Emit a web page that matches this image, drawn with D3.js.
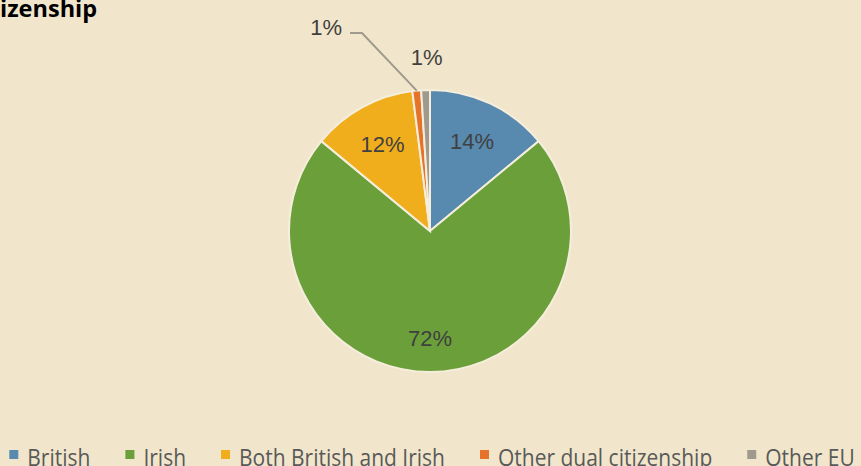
<!DOCTYPE html>
<html><head><meta charset="utf-8">
<script src="https://cdn.jsdelivr.net/npm/d3@7"></script>
<style>html,body{margin:0;padding:0;background:#f1e6cb;overflow:hidden}</style>
</head><body>
<svg id="c" width="861" height="466"></svg>
<script>
const categories = ["British","Irish","Both British and Irish","Other dual citizenship","Other EU"];
const values = [14,72,12,1,1];
const labels = ["14%","72%","12%","1%","1%"];
const colors = ["#5889ae","#6a9f3a","#f0ae1c","#e5732a","#a09a8e"];
const title = "Citizenship";

const svg = d3.select("#c");
const W = 861, H = 466;
svg.append("rect").attr("width",W).attr("height",H).attr("fill","#f1e6cb");

// title (left part cut off, as in the reference)
{
  const tf = "'Open Sans', sans-serif";
  const tmp = svg.append("text").attr("font-family",tf).attr("font-weight","bold").attr("font-size",23.5).text("Cit");
  const off = tmp.node().getComputedTextLength();
  tmp.remove();
  svg.append("text").attr("transform",`translate(${-off},17)`)
    .attr("font-family",tf).attr("font-weight","bold").attr("font-size",23.5)
    .attr("fill","#000").text(title);
}

const cx = 430, cy = 231, R = 141;
const pie = d3.pie().sort(null).value(d=>d)(values);
const arc = d3.arc().innerRadius(0).outerRadius(R);
const g = svg.append("g").attr("transform",`translate(${cx},${cy})`);
g.selectAll("path").data(pie).join("path").attr("d",arc)
  .attr("fill",(d,i)=>colors[i]).attr("stroke","#f6eedc").attr("stroke-width",2);

const lf = "'Liberation Sans', Arial, sans-serif";
const lfs = 22;
// inside labels
const inner = [0,1,2];
const rf = [0.70,0.76,0.70];
inner.forEach(i=>{
  const a = d3.arc().innerRadius(R*rf[i]).outerRadius(R*rf[i]);
  const [x,y] = a.centroid(pie[i]);
  g.append("text").attr("x",x).attr("y",y).attr("dy","0.35em").attr("text-anchor","middle")
   .attr("font-family",lf).attr("font-size",lfs).attr("fill","#404040").text(labels[i]);
});
// outside labels
{
  const d = pie[4];
  const a = d3.arc().innerRadius(R*1.23).outerRadius(R*1.23);
  const [x,y] = a.centroid(d);
  g.append("text").attr("x",x+2).attr("y",y).attr("dy","0.35em").attr("text-anchor","middle")
   .attr("font-family",lf).attr("font-size",lfs).attr("fill","#404040").text(labels[4]);
}
{
  const d = pie[3];
  const mid = (d.startAngle+d.endAngle)/2;
  const p0 = [R*Math.sin(mid), -R*Math.cos(mid)];
  const p1 = [-68, -198];
  const p2 = [-80, -198];
  g.append("polyline").attr("points",[p0,p1,p2].map(p=>p.join(",")).join(" "))
   .attr("fill","none").attr("stroke","#a09a8e").attr("stroke-width",2);
  g.append("text").attr("x",p2[0]-8).attr("y",p2[1]+2).attr("text-anchor","end")
   .attr("font-family",lf).attr("font-size",lfs).attr("fill","#404040").text(labels[3]);
}

// legend
const leg = svg.append("g");
const items = [];
categories.forEach((c,i)=>{
  const it = leg.append("g");
  it.append("rect").attr("y",450).attr("width",9).attr("height",9).attr("fill",colors[i]);
  const t = it.append("text").attr("transform","translate(18,466) scale(1,1.12)")
    .attr("font-family","'Open Sans', sans-serif").attr("font-size",21).attr("fill","#595959").text(c);
  items.push({it, w: 18 + t.node().getComputedTextLength()});
});
const gap = 35;
const total = d3.sum(items, d=>d.w) + gap*(items.length-1);
let x = 432 - total/2;
items.forEach(d=>{ d.it.attr("transform",`translate(${x},0)`); x += d.w + gap; });
</script>
</body></html>
